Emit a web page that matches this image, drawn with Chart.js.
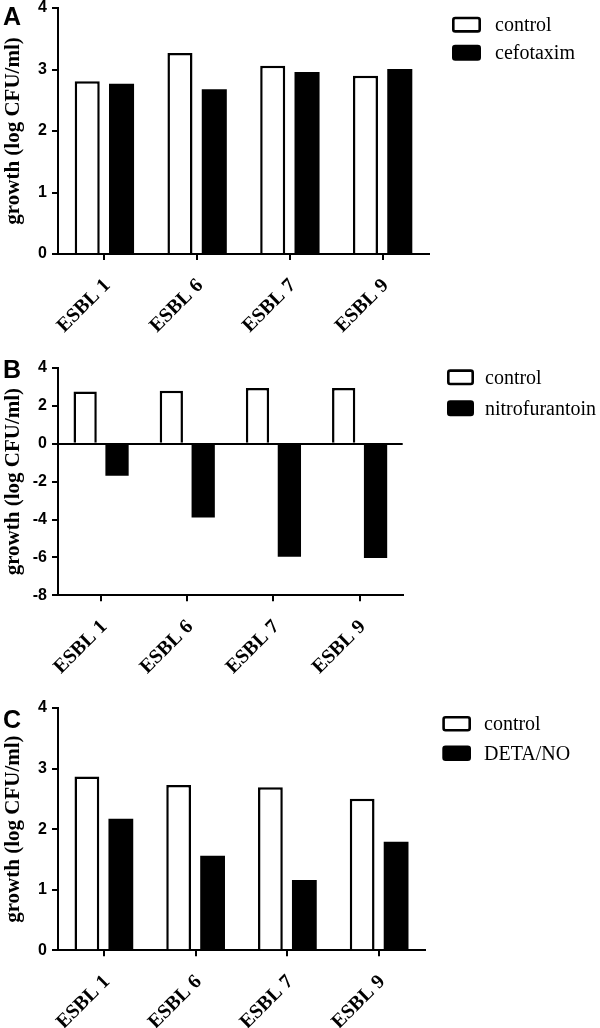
<!DOCTYPE html>
<html><head><meta charset="utf-8">
<script src="https://cdn.jsdelivr.net/npm/chart.js@4"></script>
<style>
html,body{margin:0;padding:0;background:#fff;width:600px;height:1028px;overflow:hidden;position:relative}
canvas{position:absolute;left:0}
.lbl{position:absolute;left:3px;font:bold 25px "Liberation Sans",Arial,sans-serif;line-height:25px;color:#000}
</style></head><body>
<canvas id="cA" width="600" height="340"></canvas>
<canvas id="cB" width="600" height="330"></canvas>
<canvas id="cC" width="600" height="334"></canvas>
<div class="lbl" style="top:3.7px">A</div>
<div class="lbl" style="top:356.7px">B</div>
<div class="lbl" style="top:706.7px">C</div>
<script>
const categories = ['ESBL 1', 'ESBL 6', 'ESBL 7', 'ESBL 9'];
const controlA = [2.81, 3.27, 3.06, 2.90];
const cefotaxim = [2.77, 2.68, 2.96, 3.01];
const controlB = [2.76, 2.80, 2.94, 2.94];
const nitrofurantoin = [-1.69, -3.89, -5.97, -6.03];
const controlC = [2.87, 2.73, 2.69, 2.50];
const detaNO = [2.17, 1.56, 1.16, 1.79];
const yTicksA = [0, 1, 2, 3, 4];
const yTicksB = [-8, -6, -4, -2, 0, 2, 4];
const yTicksC = [0, 1, 2, 3, 4];
const yTitle = 'growth (log CFU/ml)';
const seriesNames = { A: ['control', 'cefotaxim'], B: ['control', 'nitrofurantoin'], C: ['control', 'DETA/NO'] };

const SERIF = '"Liberation Serif","Times New Roman",serif';
const SANS = '"Liberation Sans",Arial,sans-serif';

const sideLegend = {
  id: 'sideLegend',
  afterDraw(chart, args, o) {
    const ctx = chart.ctx;
    chart.data.datasets.forEach((ds, i) => {
      const y = o.y + i * o.gap;
      ctx.save();
      const lw = 2.6;
      const x0 = o.x + lw / 2, y0 = y + lw / 2, w = o.w - lw, h = o.h - lw;
      ctx.beginPath();
      if (ctx.roundRect) ctx.roundRect(x0, y0, w, h, 2); else ctx.rect(x0, y0, w, h);
      ctx.fillStyle = ds.backgroundColor;
      ctx.fill();
      ctx.lineWidth = lw;
      ctx.strokeStyle = '#000';
      ctx.stroke();
      ctx.fillStyle = '#000';
      ctx.font = '20px ' + SERIF;
      ctx.textBaseline = 'middle';
      ctx.textAlign = 'left';
      ctx.fillText(ds.label, o.tx, y + o.h / 2 + 1);
      ctx.restore();
    });
  }
};

function makePanel(p) {
  const T = p.chartTop - 14;
  const canvas = document.getElementById(p.id);
  canvas.style.top = T + 'px';
  const H = canvas.height;
  const xH = T + H - p.chartBottom;
  const ticks = p.yTicks;
  const zero = p.zeroLine;
  new Chart(canvas, {
    type: 'bar',
    data: {
      labels: categories,
      datasets: [
        { label: p.names[0], data: p.d1, backgroundColor: '#ffffff', borderColor: '#000', borderWidth: 2.5, borderSkipped: 'start', categoryPercentage: 0.74, barPercentage: 0.73 },
        { label: p.names[1], data: p.d2, backgroundColor: '#000000', borderColor: '#000', borderWidth: 0, borderSkipped: 'start', categoryPercentage: 0.74, barPercentage: 0.73 }
      ]
    },
    options: {
      responsive: false,
      animation: false,
      layout: { padding: { top: 14, left: 0, right: 600 - p.chartRight, bottom: 0 } },
      plugins: {
        legend: { display: false },
        tooltip: { enabled: false },
        sideLegend: { x: p.lx, y: p.ly - T, gap: p.lgap, w: p.lw, h: p.lh, tx: p.tx }
      },
      scales: {
        x: {
          grid: { display: true, offset: false, drawOnChartArea: false, drawTicks: true, tickLength: 6, color: '#000', lineWidth: 2 },
          border: { display: true, color: '#000', width: 2 },
          ticks: { autoSkip: false, minRotation: 45, maxRotation: 45, color: '#000', padding: 14, labelOffset: 3, font: { family: SERIF, weight: 'bold', size: 20 } },
          afterFit(s) { s.height = xH; }
        },
        y: {
          min: ticks[0], max: ticks[ticks.length - 1],
          ticks: { stepSize: ticks[1] - ticks[0], color: '#000', padding: 5, font: { family: SANS, weight: 'bold', size: 16, lineHeight: 1 } },
          grid: {
            drawOnChartArea: !!zero,
            color: zero ? (c) => (c.tick && c.tick.value === 0 ? '#000' : 'rgba(0,0,0,0)') : '#000',
            tickColor: '#000', lineWidth: 2, tickLength: 6
          },
          border: { display: true, color: '#000', width: 2 },
          title: { display: true, text: yTitle, color: '#000', padding: { top: 1, bottom: 0 }, font: { family: SERIF, weight: 'bold', size: 21 } },
          afterFit(s) { s.width = 58; }
        }
      }
    },
    plugins: [sideLegend]
  });
}

makePanel({ id: 'cA', chartTop: 8.3, chartBottom: 254.3, chartRight: 429, yTicks: yTicksA, names: seriesNames.A, d1: controlA, d2: cefotaxim, zeroLine: false,
  lx: 452, ly: 17, lgap: 28, lw: 29, lh: 16, tx: 495 });
makePanel({ id: 'cB', chartTop: 367.7, chartBottom: 595, chartRight: 402.7, yTicks: yTicksB, names: seriesNames.B, d1: controlB, d2: nitrofurantoin, zeroLine: true,
  lx: 447, ly: 369, lgap: 31, lw: 27, lh: 16, tx: 485 });
makePanel({ id: 'cC', chartTop: 707.7, chartBottom: 950, chartRight: 425, yTicks: yTicksC, names: seriesNames.C, d1: controlC, d2: detaNO, zeroLine: false,
  lx: 442.3, ly: 715.7, lgap: 29.5, lw: 28.7, lh: 15.5, tx: 484 });
</script>
</body></html>
